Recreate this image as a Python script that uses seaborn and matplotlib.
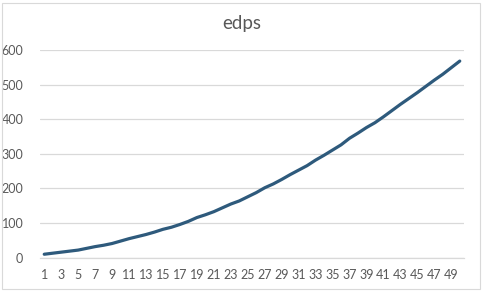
import matplotlib
matplotlib.use("Agg")
import matplotlib.pyplot as plt
import seaborn as sns
import pandas as pd
from matplotlib.patches import Rectangle

# Data
categories = list(range(1, 51))
edps = [10, 13, 16, 19, 22, 27, 32, 36, 41, 48,
        55, 61, 67, 74, 82, 88, 96, 105, 116, 124,
        133, 144, 155, 164, 176, 188, 202, 213, 226, 240,
        253, 266, 282, 296, 311, 326, 345, 360, 376, 390,
        407, 425, 443, 460, 477, 495, 513, 530, 549, 568]
x_tick_labels = [str(c) for c in categories if c % 2 == 1]
y_ticks = [0, 100, 200, 300, 400, 500, 600]

df = pd.DataFrame({"cat": categories, "edps": edps})

sns.set_style("white")
plt.rcParams["font.family"] = ["Lato", "DejaVu Sans"]

fig = plt.figure(figsize=(4.84, 2.91), dpi=100)
ax = fig.add_axes([40 / 484, 1 - 257.7 / 291, 424 / 484, (257.7 - 50) / 291])

sns.lineplot(data=df, x="cat", y="edps", ax=ax, color="#2e5a7c", linewidth=2.3)

ax.set_xlim(0.5, 50.5)
ax.set_ylim(0, 600)
ax.set_yticks(y_ticks)
ax.set_xticks([c for c in categories if c % 2 == 1])
ax.set_xticklabels(x_tick_labels)
ax.grid(axis="y", color="#d9d9d9", linewidth=0.9)
ax.set_axisbelow(True)
for s in ["top", "right", "left"]:
    ax.spines[s].set_visible(False)
ax.spines["bottom"].set_color("#d9d9d9")
ax.spines["bottom"].set_linewidth(0.9)
ax.tick_params(axis="both", length=0, colors="#595959", labelsize=9)
ax.tick_params(axis="y", pad=12)
ax.tick_params(axis="x", pad=8)
ax.set_xlabel("")
ax.set_ylabel("")

fig.text(0.5, 1 - 23 / 291, "edps", ha="center", va="center",
         fontsize=13.5, color="#595959")

fig.patches.append(Rectangle((2 / 484, 2 / 291), 478 / 484, 286 / 291,
                             transform=fig.transFigure, fill=False,
                             edgecolor="#d9d9d9", linewidth=0.8))

fig.savefig("out.png", dpi=100)
